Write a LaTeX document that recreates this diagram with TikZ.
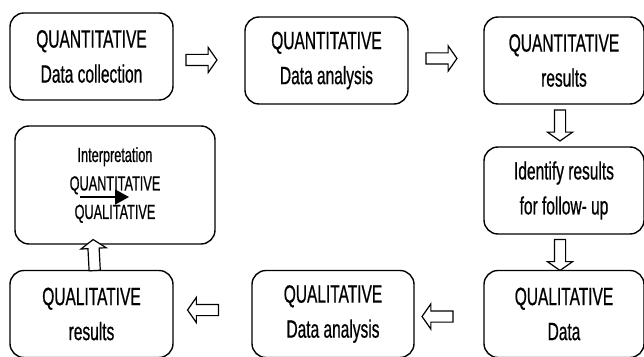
\documentclass[tikz,border=0pt]{standalone}
\usepackage{fontspec}
\setmainfont[FakeStretch=0.62,FakeBold=0.6]{Liberation Sans}
\usetikzlibrary{arrows.meta,shapes.arrows}
\tikzset{
	stage/.style={draw, line width=1.4pt, rounded corners=14pt, align=center, inner sep=0pt,
		minimum height=87pt, font=\fontsize{25}{35}\selectfont},
	blk/.style={single arrow, draw, line width=1.2pt, fill=white, inner sep=0pt,
		text height=10pt, text depth=0pt, minimum height=31pt,
		single arrow head extend=7pt, single arrow tip angle=110}
}

\begin{document}
\begin{tikzpicture}[x=1pt,y=1pt]
	\useasboundingbox (0,0) rectangle (644,356);
	\clip (0,0) rectangle (644,356);
	\node[stage, minimum width=163pt] (qndc) at (91.5,299.5) {QUANTITATIVE\\Data collection};
	\node[stage, minimum width=163pt] (qnda) at (326.5,295.5) {QUANTITATIVE\\Data analysis};
	\node[stage, minimum width=160pt] (qnres) at (564,295.5) {QUANTITATIVE\\results};
	\node[stage, minimum width=160pt] (ident) at (564,165.5) {Identify results\\for follow- up};
	\node[stage, minimum width=160pt] (qldata) at (564,42) {QUALITATIVE\\Data};
	\node[stage, minimum width=162pt] (qlda) at (333,42) {QUALITATIVE\\Data analysis};
	\node[stage, minimum width=163pt] (qlres) at (91.5,42) {QUALITATIVE\\results};
	\node[stage, minimum width=200pt, minimum height=118pt,
		font=\fontsize{20.5}{28.5}\selectfont] (interp) at (115,171) {Interpretation\\QUANTITATIVE\\QUALITATIVE};
	
	% block arrows between the stages
	\node[blk] (a1) at (199.5,296) {};
	\node[blk] (a2) at (439.5,297.5) {};
	\node[blk, rotate=-90] (a3) at (560,232.5) {};
	\node[blk, rotate=-90] (a4) at (560,103) {};
	\node[blk, rotate=180] (a5) at (439.5,39.5) {};
	\node[blk, rotate=180] (a6) at (205,46) {};
	\node[blk, rotate=93] (a7) at (94,99) {};
	
	\coordinate (ia) at (80,159);
	\coordinate (ib) at (129,159);
	\draw [line width=1.8pt, -{Triangle[length=14pt,width=15pt]}] (ia) -- (ib);
\end{tikzpicture}
\end{document}
